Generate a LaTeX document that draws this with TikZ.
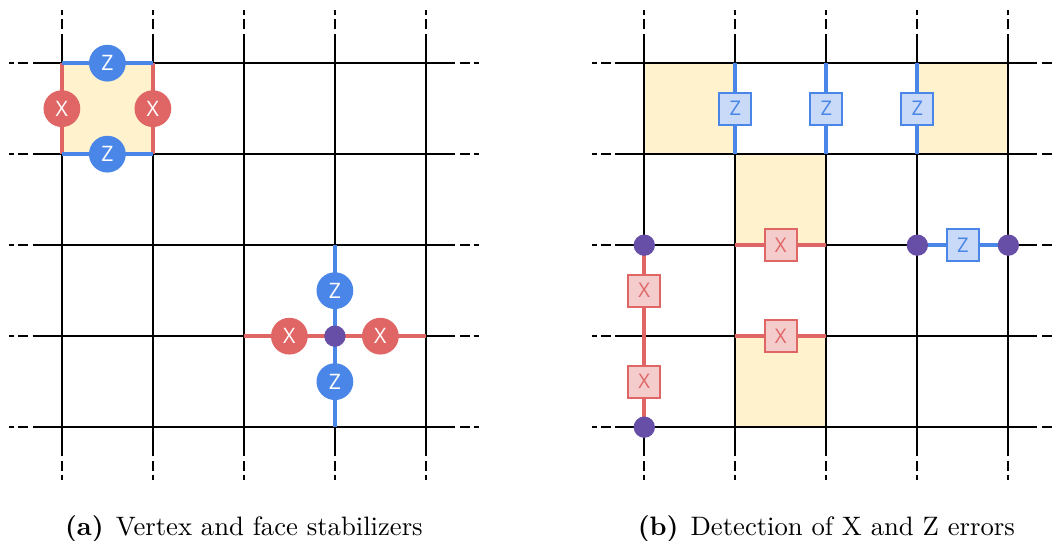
\documentclass[tikz,border=0pt]{standalone}
\usepackage{fontspec}
\usetikzlibrary{positioning}
\newfontfamily\opsans{Open Sans}

\definecolor{errred}{HTML}{E06666}
\definecolor{errblue}{HTML}{4A86E8}
\definecolor{lightred}{HTML}{F4CCCC}
\definecolor{lightblue}{HTML}{C9DAF8}
\definecolor{vtxpurple}{HTML}{674EA7}
\definecolor{faceyellow}{HTML}{FFF2CC}

\begin{document}
\begin{tikzpicture}[x=1.2cm,y=1.2cm,
    gridline/.style={line width=0.75pt},
    gridend/.style={line width=0.75pt,dash pattern=on 3.75pt off 1.5pt on 1.9pt off 6pt},
    plaq/.style={fill=faceyellow},
    xedge/.style={draw=errred,line width=1.5pt},
    zedge/.style={draw=errblue,line width=1.5pt},
    xstab/.style={circle,fill=errred,text=white,minimum size=13.8pt,inner sep=0pt,
                  font=\opsans\fontsize{8}{8}\selectfont},
    zstab/.style={xstab,fill=errblue},
    xerr/.style={rectangle,draw=errred,fill=lightred,text=errred,line width=0.75pt,
                 minimum size=12pt,inner sep=0pt,font=\opsans\fontsize{7.6}{7.6}\selectfont},
    zerr/.style={xerr,draw=errblue,fill=lightblue,text=errblue},
    vtx/.style={circle,fill=vtxpurple,minimum size=8pt,inner sep=0pt},
    subcap/.style={anchor=base,font=\normalsize}]
  \useasboundingbox (0,0) rectangle (11.56,5.934);

  % (a) stabilizers
  \begin{scope}[shift={(0.68,1.24)}]
    \foreach \i in {0,...,4}
      \foreach \j in {0,...,4}
        \coordinate (a-\i-\j) at (\i,\j);
    \fill[plaq] (a-0-3) rectangle (a-1-4);
    \foreach \k in {0,...,4} {
      \draw[gridline] (\k,-0.32) -- (\k,4.32);
      \draw[gridline] (-0.32,\k) -- (4.32,\k);
      \draw[gridend] (\k,4.37) -- (\k,4.62);
      \draw[gridend] (\k,-0.37) -- (\k,-0.62);
      \draw[gridend] (4.37,\k) -- (4.62,\k);
      \draw[gridend] (-0.37,\k) -- (-0.62,\k);
    }
    % face stabilizer
    \draw[xedge] (a-0-3) -- node[xstab] (fxl) {X} (a-0-4);
    \draw[xedge] (a-1-3) -- node[xstab] (fxr) {X} (a-1-4);
    \draw[zedge] (a-0-4) -- node[zstab] (fzt) {Z} (a-1-4);
    \draw[zedge] (a-0-3) -- node[zstab] (fzb) {Z} (a-1-3);
    % vertex stabilizer
    \draw[xedge] (a-2-1) -- node[xstab] (vxl) {X} (a-3-1) -- node[xstab] (vxr) {X} (a-4-1);
    \draw[zedge] (a-3-0) -- node[zstab] (vzb) {Z} (a-3-1) -- node[zstab] (vzt) {Z} (a-3-2);
    \node[vtx] (va) at (a-3-1) {};
    \node[subcap] (capa) at (2,-1.19) {\textbf{(a)}\hspace{0.45em}Vertex and face stabilizers};
  \end{scope}

  % (b) syndromes
  \begin{scope}[shift={(7.08,1.24)}]
    \foreach \i in {0,...,4}
      \foreach \j in {0,...,4}
        \coordinate (b-\i-\j) at (\i,\j);
    \fill[plaq] (b-0-3) rectangle (b-1-4);
    \fill[plaq] (b-3-3) rectangle (b-4-4);
    \fill[plaq] (b-1-2) rectangle (b-2-3);
    \fill[plaq] (b-1-0) rectangle (b-2-1);
    \foreach \k in {0,...,4} {
      \draw[gridline] (\k,-0.32) -- (\k,4.32);
      \draw[gridline] (-0.32,\k) -- (4.32,\k);
      \draw[gridend] (\k,4.37) -- (\k,4.62);
      \draw[gridend] (\k,-0.37) -- (\k,-0.62);
      \draw[gridend] (4.37,\k) -- (4.62,\k);
      \draw[gridend] (-0.37,\k) -- (-0.62,\k);
    }
    \draw[zedge] (b-1-3) -- node[zerr] (ez1) {Z} (b-1-4);
    \draw[zedge] (b-2-3) -- node[zerr] (ez2) {Z} (b-2-4);
    \draw[zedge] (b-3-3) -- node[zerr] (ez3) {Z} (b-3-4);
    \draw[xedge] (b-1-2) -- node[xerr] (ex1) {X} (b-2-2);
    \draw[xedge] (b-1-1) -- node[xerr] (ex2) {X} (b-2-1);
    \draw[xedge] (b-0-0) -- node[xerr] (ex3) {X} (b-0-1) -- node[xerr] (ex4) {X} (b-0-2);
    \draw[zedge] (b-3-2) -- node[zerr] (ez4) {Z} (b-4-2);
    \foreach \v in {b-0-0,b-0-2,b-3-2,b-4-2}
      \node[vtx] (s-\v) at (\v) {};
    \node[subcap] (capb) at (2,-1.19) {\textbf{(b)}\hspace{0.45em}Detection of X and Z errors};
  \end{scope}
\end{tikzpicture}
\end{document}
